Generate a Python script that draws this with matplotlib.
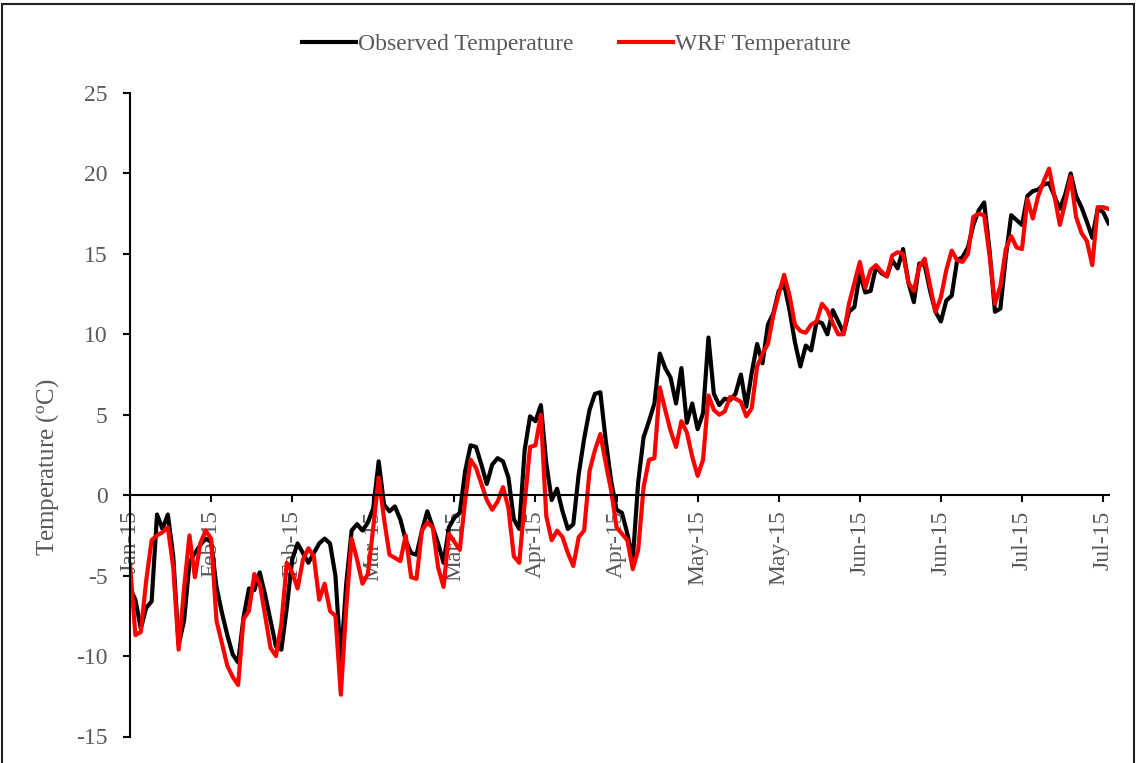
import matplotlib.pyplot as plt
from matplotlib.patches import Rectangle

plt.rcParams['font.family'] = ['Liberation Serif', 'DejaVu Serif']
plt.rcParams['mathtext.fontset'] = 'custom'
plt.rcParams['mathtext.rm'] = 'Liberation Serif'
plt.rcParams['axes.unicode_minus'] = False

# daily mean temperature (degC), one value per day
observed = [
    -5.8, -6.5, -8.3, -7.0, -6.6, -1.2, -2.1, -1.2, -3.8, -9.3,
    -7.8, -4.2, -3.6, -3.1, -2.7, -2.9, -5.7, -7.3, -8.7, -9.9,
    -10.4, -7.6, -5.8, -5.9, -4.8, -6.2, -7.8, -9.4, -9.6, -7.0,
    -4.0, -3.0, -3.6, -4.2, -3.6, -3.0, -2.7, -3.0, -5.0, -10.3,
    -5.5, -2.2, -1.8, -2.2, -1.7, -0.8, 2.1, -0.6, -1.0, -0.7,
    -1.5, -2.8, -3.6, -3.7, -2.2, -1.0, -2.0, -3.0, -4.2, -2.0,
    -1.4, -1.1, 1.5, 3.1, 3.0, 1.9, 0.7, 1.9, 2.3, 2.1,
    1.1, -1.5, -2.1, 2.8, 4.9, 4.6, 5.6, 2.0, -0.3, 0.4,
    -1.0, -2.1, -1.8, 1.3, 3.5, 5.3, 6.3, 6.4, 3.4, 0.9,
    -0.9, -1.1, -2.4, -4.0, 0.8, 3.6, 4.6, 5.7, 8.8, 7.9,
    7.3, 5.7, 7.9, 4.5, 5.7, 4.1, 5.1, 9.8, 6.3, 5.6,
    6.0, 5.9, 6.3, 7.5, 5.5, 7.6, 9.4, 8.2, 10.6, 11.3,
    12.7, 13.1, 11.5, 9.5, 8.0, 9.3, 9.0, 10.8, 10.7, 10.0,
    11.5, 10.8, 10.1, 11.4, 11.7, 13.8, 12.6, 12.7, 14.2, 13.8,
    13.6, 14.6, 14.1, 15.3, 13.2, 12.0, 14.4, 14.3, 12.7, 11.4,
    10.8, 12.1, 12.4, 14.6, 14.8, 15.4, 16.8, 17.7, 18.2, 15.2,
    11.4, 11.6, 14.8, 17.4, 17.1, 16.8, 18.6, 18.9, 19.0, 19.3,
    19.4, 18.6, 17.8, 18.7, 20.0, 18.6, 17.9, 17.0, 16.0, 17.8,
    17.6, 16.9,
]

wrf = [
    -4.3, -8.7, -8.5, -5.3, -2.8, -2.5, -2.3, -2.0, -4.5, -9.6,
    -5.8, -2.5, -5.1, -3.0, -2.2, -2.7, -7.8, -9.2, -10.6, -11.3,
    -11.8, -7.7, -7.2, -4.9, -5.5, -7.5, -9.5, -10.0, -8.0, -4.2,
    -4.8, -5.8, -4.0, -3.3, -3.8, -6.5, -5.5, -7.2, -7.5, -12.4,
    -7.0, -2.7, -4.0, -5.5, -4.9, -2.0, 1.1, -1.5, -3.7, -3.9,
    -4.1, -2.5, -5.1, -5.2, -2.2, -1.7, -2.0, -4.5, -5.7, -2.4,
    -2.9, -3.4, -0.3, 2.2, 1.7, 0.7, -0.3, -0.9, -0.4, 0.5,
    -0.8, -3.8, -4.2, -0.5, 3.0, 3.1, 5.0, -1.3, -2.8, -2.2,
    -2.6, -3.6, -4.4, -2.6, -2.2, 1.5, 2.8, 3.8, 2.0, 0.3,
    -2.0, -2.4, -2.8, -4.6, -3.4, 0.5, 2.2, 2.3, 6.7, 5.3,
    4.0, 3.0, 4.6, 3.9, 2.4, 1.2, 2.2, 6.2, 5.3, 5.0,
    5.2, 6.1, 6.0, 5.8, 4.9, 5.4, 8.0, 8.8, 9.4, 11.2,
    12.5, 13.7, 12.4, 10.6, 10.2, 10.1, 10.6, 10.8, 11.9, 11.5,
    10.7, 10.0, 10.0, 11.9, 13.2, 14.5, 12.9, 14.0, 14.3, 13.9,
    13.6, 14.9, 15.1, 15.0, 13.2, 12.7, 14.2, 14.7, 13.0, 11.4,
    12.3, 14.0, 15.2, 14.6, 14.5, 15.0, 17.3, 17.5, 17.4, 14.9,
    11.9, 13.0, 15.3, 16.1, 15.4, 15.3, 18.4, 17.2, 18.6, 19.5,
    20.3, 18.6, 16.8, 18.2, 19.8, 17.3, 16.3, 15.8, 14.3, 17.9,
    17.9, 17.8,
]

tick_pos = list(range(0, 181, 15))
tick_labels = ['Jan-15', 'Feb-15', 'Feb-15', 'Mar-15', 'Mar-15', 'Apr-15',
               'Apr-15', 'May-15', 'May-15', 'Jun-15', 'Jun-15', 'Jul-15',
               'Jul-15']
y_ticks = [-15, -10, -5, 0, 5, 10, 15, 20, 25]

W, H = 1138, 763
fig = plt.figure(figsize=(W / 100, H / 100), dpi=100)
ax = fig.add_axes([130 / W, 1 - 736.5 / H, (1108.5 - 130) / W, (736.5 - 93) / H])

days = list(range(len(observed)))
ax.plot(days, observed, color='black', lw=3, label='Observed Temperature')
ax.plot(days, wrf, color='#ff0000', lw=3, label='WRF Temperature')

ax.set_xlim(0, len(observed) - 1)
ax.set_ylim(-15, 25)

for side in ['top', 'right']:
    ax.spines[side].set_visible(False)
ax.spines['bottom'].set_position(('data', 0))
ax.spines['bottom'].set_linewidth(1.5)
ax.spines['left'].set_linewidth(1.5)

grey = '#595959'
ax.set_yticks(y_ticks)
ax.tick_params(axis='y', direction='out', length=5, width=1.5,
               pad=11, labelsize=17, labelcolor=grey)
ax.set_xticks(tick_pos, tick_labels, rotation=90)
ax.tick_params(axis='x', direction='out', length=5, width=1.5,
               pad=6, labelsize=17, labelcolor=grey)

ax.set_ylabel(r'Temperature ($\mathregular{^o}$C)', fontsize=18, color=grey)
ax.yaxis.set_label_coords(-0.071, 0.419)

fig.legend(loc='center', bbox_to_anchor=(0.5066, 0.942), ncol=2,
           frameon=False, fontsize=17, handlelength=2.3, handletextpad=0.1,
           columnspacing=1.9, labelcolor=grey)

# chart border
fig.add_artist(Rectangle((2 / W, -0.05), (1134 - 2) / W, 1.05 - 4 / H,
                         transform=fig.transFigure, fill=False,
                         edgecolor='#222222', lw=1.5))

fig.savefig('out.png', dpi=100)
